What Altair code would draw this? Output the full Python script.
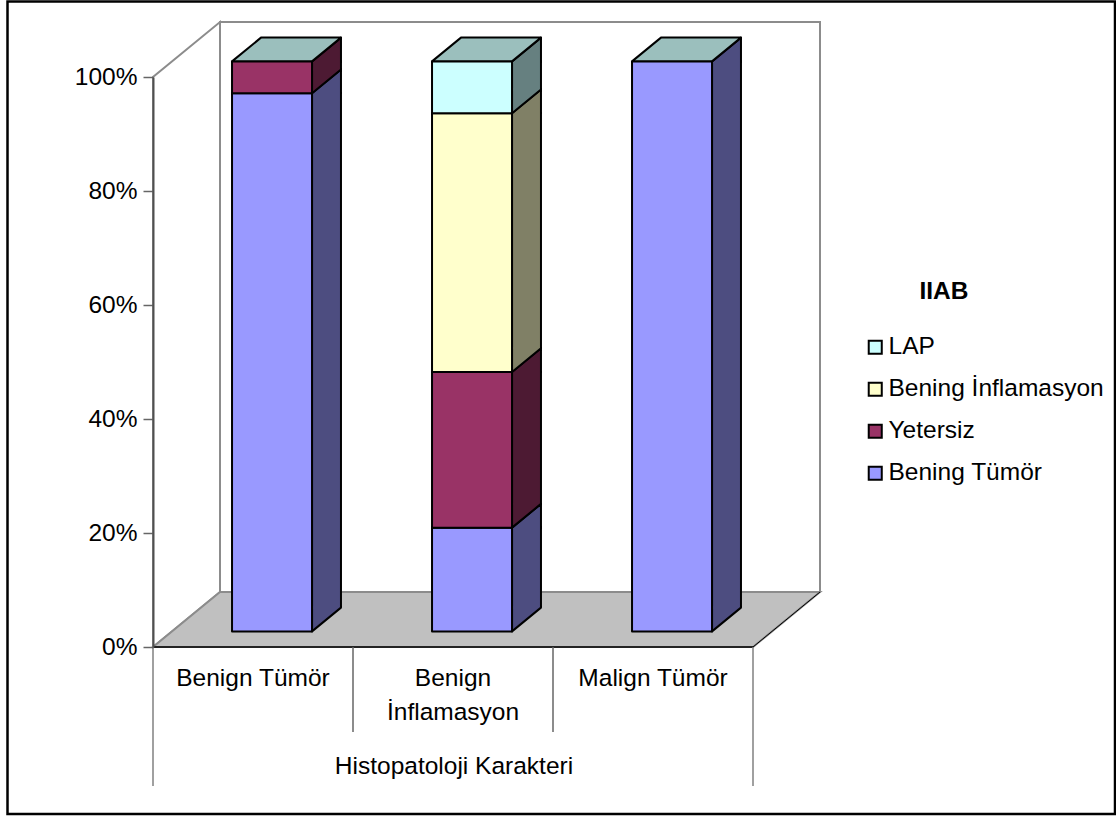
import altair as alt
import pandas as pd

FONT = "Liberation Sans"
TEXT_SIZE = 24.5

# Diagnostic groups and the share of each result within them
groups = ["Benign Tümör", "Benign\nİnflamasyon", "Malign Tümör"]
series = ["Bening Tümör", "Yetersiz", "Bening İnflamasyon", "LAP"]
shares = {
    "Bening Tümör": [0.944, 0.182, 1.0],
    "Yetersiz": [0.056, 0.273, 0.0],
    "Bening İnflamasyon": [0.0, 0.454, 0.0],
    "LAP": [0.0, 0.091, 0.0],
}
front_colors = ["#9999FF", "#993366", "#FFFFCC", "#CCFFFF"]
side_colors = ["#4D4D80", "#4D1A33", "#808066", "#668080"]
top_color = "#9BBFBD"

# Oblique projection: how far one full unit of depth moves a point on the scales
DEPTH_X = 67 / 200
DEPTH_Y = 55 / 570
BAR_FRONT, BAR_BACK = 0.284, 0.716
BAR_LEFT, BAR_RIGHT = 0.3, 0.7

x_scale = alt.Scale(domain=[0, 3], nice=False, zero=False)
y_scale = alt.Scale(domain=[0, 1], nice=False, zero=False)
y_axis = alt.Axis(
    values=[0, 0.2, 0.4, 0.6, 0.8, 1.0], format=".0%", title=None, grid=False, zindex=1,
    domainColor="#505050", domainWidth=2, tickColor="#666666", tickWidth=1.5, tickSize=10,
    labelFont=FONT, labelFontSize=TEXT_SIZE, labelColor="black", labelPadding=6,
)


def X(field="x"):
    return alt.X(f"{field}:Q", scale=x_scale, axis=None)


def Y(field="y"):
    return alt.Y(f"{field}:Q", scale=y_scale, axis=y_axis)


# One row per drawn face of the stacked boxes
fronts, sides, tops = [], [], []
for g in range(len(groups)):
    base = 0.0
    top = 0.0
    for s, name in enumerate(series):
        v = shares[name][g]
        if v <= 0:
            continue
        left = g + BAR_LEFT + BAR_FRONT * DEPTH_X
        right = g + BAR_RIGHT + BAR_FRONT * DEPTH_X
        lift = BAR_FRONT * DEPTH_Y
        fronts.append(dict(series=name, x=left, x2=right, y=base + lift, y2=base + v + lift))
        for depth in (BAR_FRONT, BAR_BACK):
            sides.append(dict(
                face=f"{g}-{s}", fill=side_colors[s],
                x=g + BAR_RIGHT + depth * DEPTH_X,
                y=base + depth * DEPTH_Y, y2=base + v + depth * DEPTH_Y,
            ))
        base += v
        top = base
    for depth in (BAR_FRONT, BAR_BACK):
        tops.append(dict(
            face=str(g), y=top + depth * DEPTH_Y,
            x=g + BAR_LEFT + depth * DEPTH_X, x2=g + BAR_RIGHT + depth * DEPTH_X,
        ))

fronts, sides, tops = map(pd.DataFrame, (fronts, sides, tops))

# Page frame around the whole figure
frame = alt.Chart(pd.DataFrame({"k": [0]})).mark_rect(
    fill="white", stroke="black", strokeWidth=2.5
).encode(x=alt.value(-145.5), x2=alt.value(962), y=alt.value(-75.5), y2=alt.value(737))

# Back wall, left wall and floor of the box
back_wall = alt.Chart(pd.DataFrame([dict(x=DEPTH_X, x2=3 + DEPTH_X, y=DEPTH_Y, y2=1 + DEPTH_Y)])).mark_rect(
    fill="white", stroke="#8C8C8C", strokeWidth=2
).encode(x=X(), x2="x2:Q", y=Y(), y2="y2:Q")

left_wall = alt.Chart(pd.DataFrame([
    dict(x=0, y=0, y2=1), dict(x=DEPTH_X, y=DEPTH_Y, y2=1 + DEPTH_Y),
])).mark_area(orient="vertical", fill="white", stroke="#8C8C8C", strokeWidth=2).encode(
    x=X(), y=Y(), y2="y2:Q"
)

floor = alt.Chart(pd.DataFrame([
    dict(y=0, x=0, x2=3), dict(y=DEPTH_Y, x=DEPTH_X, x2=3 + DEPTH_X),
])).mark_area(orient="horizontal", fill="#C0C0C0", stroke="#8C8C8C", strokeWidth=2).encode(
    x=X(), x2="x2:Q", y=Y()
)

floor_edge = alt.Chart(pd.DataFrame([dict(x=3, y=0), dict(x=3 + DEPTH_X, y=DEPTH_Y)])).mark_line(
    color="black", strokeWidth=1
).encode(x=X(), y=Y())

base_line = alt.Chart(pd.DataFrame([dict(x=0, x2=3, y=0)])).mark_rule(
    color="black", strokeWidth=1.5
).encode(x=X(), x2="x2:Q", y=Y())

# Box faces
side_faces = alt.Chart(sides).mark_area(
    orient="vertical", stroke="black", strokeWidth=2, strokeJoin="round"
).encode(
    x=X(), y=Y(), y2="y2:Q", detail="face:N",
    color=alt.Color("fill:N", scale=None),
)

top_faces = alt.Chart(tops).mark_area(
    orient="horizontal", fill=top_color, stroke="black", strokeWidth=2, strokeJoin="round"
).encode(x=X(), x2="x2:Q", y=Y(), detail="face:N")

front_faces = alt.Chart(fronts).mark_rect(
    stroke="black", strokeWidth=2, strokeJoin="round"
).encode(
    x=X(), x2="x2:Q", y=Y(), y2="y2:Q",
    color=alt.Color(
        "series:N",
        scale=alt.Scale(domain=series[::-1], range=front_colors[::-1]),
        legend=alt.Legend(
            title=None, orient="none", legendX=710, legendY=258,
            symbolType="square", symbolSize=170, symbolStrokeColor="black", symbolStrokeWidth=2,
            labelFont=FONT, labelFontSize=TEXT_SIZE, labelColor="black", labelOffset=1,
            rowPadding=17, labelLimit=300,
        ),
        sort=series[::-1],
    ),
)

# Two-level category axis drawn below the floor
short_ticks = alt.Chart(pd.DataFrame({"x": [1, 2]})).mark_rule(color="#666666", strokeWidth=1.5).encode(
    x=X(), y=alt.value(570), y2=alt.value(655)
)
long_ticks = alt.Chart(pd.DataFrame({"x": [0, 3]})).mark_rule(color="#808080", strokeWidth=1.5).encode(
    x=X(), y=alt.value(570), y2=alt.value(709)
)
group_labels = alt.Chart(pd.DataFrame({"x": [0.5, 1.5, 2.5], "label": groups})).mark_text(
    font=FONT, fontSize=TEXT_SIZE, color="black", baseline="top", lineBreak="\n", lineHeight=34
).encode(x=X(), y=alt.value(590), text="label:N")
axis_title = alt.Chart(pd.DataFrame({"x": [1.505], "label": ["Histopatoloji Karakteri"]})).mark_text(
    font=FONT, fontSize=TEXT_SIZE, color="black", baseline="middle"
).encode(x=X(), y=alt.value(690), text="label:N")
legend_title = alt.Chart(pd.DataFrame({"label": ["IIAB"]})).mark_text(
    font=FONT, fontSize=TEXT_SIZE, fontWeight="bold", color="black", baseline="middle"
).encode(x=alt.value(791), y=alt.value(215), text="label:N")

chart = alt.layer(
    frame, back_wall, left_wall, floor, floor_edge, base_line,
    side_faces, top_faces, front_faces,
    short_ticks, long_ticks, group_labels, axis_title, legend_title,
).resolve_scale(color="independent").properties(
    width=600, height=570,
    padding={"left": 153, "top": 77, "right": 363, "bottom": 169},
    autosize=alt.AutoSizeParams(type="none"),
    background="white",
).configure_view(stroke=None)

chart.save("out.html", embed_options={"renderer": "svg", "actions": False})
